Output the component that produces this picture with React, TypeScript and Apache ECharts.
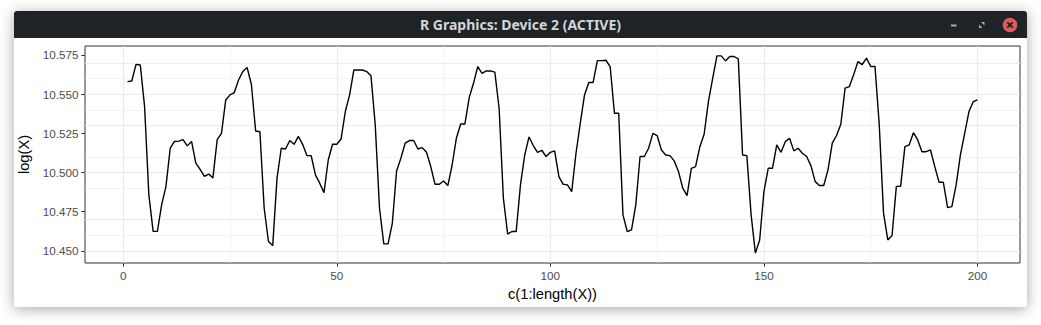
import React, { useEffect, useRef } from "react";
import * as echarts from "echarts";

// log(X) values, index 1..200
const seg1: number[] = [
  10.558, 10.5584, 10.569, 10.5686, 10.542, 10.4858, 10.4625, 10.4625, 10.4795, 10.491,
  10.5155, 10.5198, 10.52, 10.521, 10.517, 10.5198, 10.506, 10.502, 10.4976, 10.499,
  10.4966, 10.521, 10.525, 10.5463, 10.5495, 10.551, 10.559, 10.5644, 10.567, 10.5563,
  10.5265, 10.526, 10.4772, 10.456, 10.4534, 10.4963, 10.5155, 10.515, 10.5204, 10.518,
  10.5231, 10.518, 10.5108, 10.5108, 10.4985, 10.4932, 10.4872, 10.508, 10.518, 10.518,
];
const seg2: number[] = [
  10.5214, 10.5389, 10.5495, 10.5654, 10.5654, 10.5654, 10.5644, 10.5618, 10.5304, 10.4772,
  10.4545, 10.4545, 10.4676, 10.501, 10.5091, 10.5187, 10.5204, 10.5204, 10.515, 10.5159,
  10.5129, 10.5038, 10.4925, 10.4925, 10.4946, 10.4917, 10.5048, 10.5219, 10.531, 10.531,
  10.5478, 10.5569, 10.5676, 10.5633, 10.5648, 10.5648, 10.564, 10.541, 10.4836, 10.4607,
  10.4624, 10.4624, 10.4921, 10.5112, 10.5227, 10.5172, 10.5129, 10.5142, 10.5102, 10.5129,
];
const seg3: number[] = [
  10.5138, 10.4974, 10.4925, 10.4921, 10.4878, 10.5123, 10.5314, 10.5495, 10.5574, 10.5574,
  10.5714, 10.5714, 10.5716, 10.5676, 10.5378, 10.5378, 10.473, 10.4623, 10.4634, 10.4793,
  10.5102, 10.5102, 10.5155, 10.525, 10.5236, 10.5144, 10.5112, 10.5108, 10.5074, 10.5006,
  10.49, 10.4853, 10.5027, 10.5038, 10.5165, 10.5244, 10.5452, 10.5601, 10.5744, 10.5744,
  10.5712, 10.574, 10.574, 10.5725, 10.5112, 10.5108, 10.473, 10.4486, 10.457, 10.4878,
];
const seg4: number[] = [
  10.5027, 10.5027, 10.5176, 10.5129, 10.5197, 10.5219, 10.5138, 10.5155, 10.5123, 10.5102,
  10.5044, 10.4942, 10.4917, 10.4917, 10.5017, 10.5187, 10.5236, 10.5308, 10.5538, 10.5548,
  10.5623, 10.5707, 10.5688, 10.573, 10.5676, 10.5676, 10.5304, 10.4741, 10.457, 10.4598,
  10.4912, 10.4912, 10.5165, 10.5176, 10.5254, 10.5208, 10.5133, 10.5133, 10.5144, 10.5038,
  10.4938, 10.4938, 10.4776, 10.4783, 10.4921, 10.5112, 10.525, 10.5389, 10.5452, 10.5463,
];

const xTicks: number[] = [0, 50, 100, 150, 200];
const xMinor: number[] = [25, 75, 125, 175];
const yTicks: number[] = [10.45, 10.475, 10.5, 10.525, 10.55, 10.575];
const yMinor: number[] = [10.4625, 10.4875, 10.5125, 10.5375, 10.5625];

const xTitle = "c(1:length(X))";
const yTitle = "log(X)";
const windowTitle = "R Graphics: Device 2 (ACTIVE)";

const FONT = "'Liberation Sans', Arial, sans-serif";

export default function App() {
  const ref = useRef<HTMLDivElement>(null);

  useEffect(() => {
    if (!ref.current) return;
    const chart = echarts.init(ref.current, undefined, { renderer: "svg" });
    const values = [...seg1, ...seg2, ...seg3, ...seg4];
    const data = values.map((v, i) => [i + 1, v]);

    const gridColor = "#EBEBEB";
    const gridLines = [
      ...yTicks.map((v) => ({ yAxis: v, lineStyle: { color: gridColor, width: 1.1, type: "solid" } })),
      ...yMinor.map((v) => ({ yAxis: v, lineStyle: { color: gridColor, width: 0.6, type: "solid" } })),
      ...xTicks.map((v) => ({ xAxis: v, lineStyle: { color: gridColor, width: 1.1, type: "solid" } })),
      ...xMinor.map((v) => ({ xAxis: v, lineStyle: { color: gridColor, width: 0.6, type: "solid" } })),
    ];

    chart.setOption({
      animation: false,
      backgroundColor: "#ffffff",
      graphic: [
        {
          type: "rect",
          z: -10,
          shape: { x: 14, y: 11, width: 1013, height: 296 },
          style: { fill: "#ffffff", shadowBlur: 14, shadowOffsetY: 2, shadowColor: "rgba(0,0,0,0.35)" },
        },
        {
          type: "rect",
          z: 100,
          shape: { x: 14, y: 11, width: 1013, height: 27, r: [3, 3, 0, 0] },
          style: { fill: "#1d2326" },
        },
        {
          type: "text",
          z: 101,
          x: 520.5,
          y: 24.5,
          style: {
            text: windowTitle,
            fill: "#d3d6d6",
            font: "bold 14px 'Liberation Sans Narrow', 'Noto Sans', sans-serif",
            align: "center",
            verticalAlign: "middle",
          },
        },
        {
          type: "line",
          z: 101,
          shape: { x1: 951, y1: 25.5, x2: 956.5, y2: 25.5 },
          style: { stroke: "#a9aeae", lineWidth: 2 },
        },
        {
          type: "polygon",
          z: 101,
          shape: { points: [[979, 28], [979, 24.5], [982.5, 28]] },
          style: { fill: "#a9aeae" },
        },
        {
          type: "polygon",
          z: 101,
          shape: { points: [[984.5, 22], [984.5, 25.5], [981, 22]] },
          style: { fill: "#a9aeae" },
        },
        {
          type: "circle",
          z: 101,
          shape: { cx: 1010, cy: 25, r: 7.3 },
          style: { fill: "#d95c5f" },
        },
        {
          type: "line",
          z: 102,
          shape: { x1: 1007.3, y1: 22.3, x2: 1012.7, y2: 27.7 },
          style: { stroke: "#2a1a1a", lineWidth: 1.8 },
        },
        {
          type: "line",
          z: 102,
          shape: { x1: 1012.7, y1: 22.3, x2: 1007.3, y2: 27.7 },
          style: { stroke: "#2a1a1a", lineWidth: 1.8 },
        },
      ],
      grid: {
        left: 85,
        top: 46,
        right: 21,
        bottom: 62,
        show: true,
        backgroundColor: "#ffffff",
        borderColor: "#333333",
        borderWidth: 1,
        containLabel: false,
      },
      xAxis: {
        type: "value",
        min: -8.95,
        max: 209.95,
        name: xTitle,
        nameLocation: "middle",
        nameGap: 20,
        nameTextStyle: { color: "#000000", fontSize: 14.7, fontFamily: FONT },
        axisLine: { show: false, onZero: false },
        axisTick: { show: true, length: 3.7, customValues: xTicks, lineStyle: { color: "#333333", width: 1 } },
        axisLabel: {
          show: true,
          customValues: xTicks,
          margin: 6.6,
          color: "#4D4D4D",
          fontSize: 11.7,
          fontFamily: FONT,
        },
        splitLine: { show: false },
      },
      yAxis: {
        type: "value",
        min: 10.4423,
        max: 10.5807,
        name: yTitle,
        nameLocation: "middle",
        nameGap: 45,
        nameTextStyle: { color: "#000000", fontSize: 14.7, fontFamily: FONT },
        axisLine: { show: false, onZero: false },
        axisTick: { show: true, length: 3.7, customValues: yTicks, lineStyle: { color: "#333333", width: 1 } },
        axisLabel: {
          show: true,
          customValues: yTicks,
          margin: 6.6,
          color: "#4D4D4D",
          fontSize: 11.7,
          fontFamily: FONT,
          formatter: (v: number) => v.toFixed(3),
        },
        splitLine: { show: false },
      },
      series: [
        {
          type: "line",
          z: 1,
          data,
          showSymbol: false,
          silent: true,
          lineStyle: { opacity: 0, width: 0 },
          markLine: {
            silent: true,
            symbol: ["none", "none"],
            label: { show: false },
            data: gridLines,
          },
        },
        {
          type: "line",
          z: 5,
          data,
          showSymbol: false,
          lineStyle: { color: "#000000", width: 1.4 },
        },
      ],
    });
    return () => chart.dispose();
  }, []);

  return (
    <div
      ref={ref}
      style={{ position: "fixed", left: 0, top: 0, width: 1041, height: 325 }}
    />
  );
}
